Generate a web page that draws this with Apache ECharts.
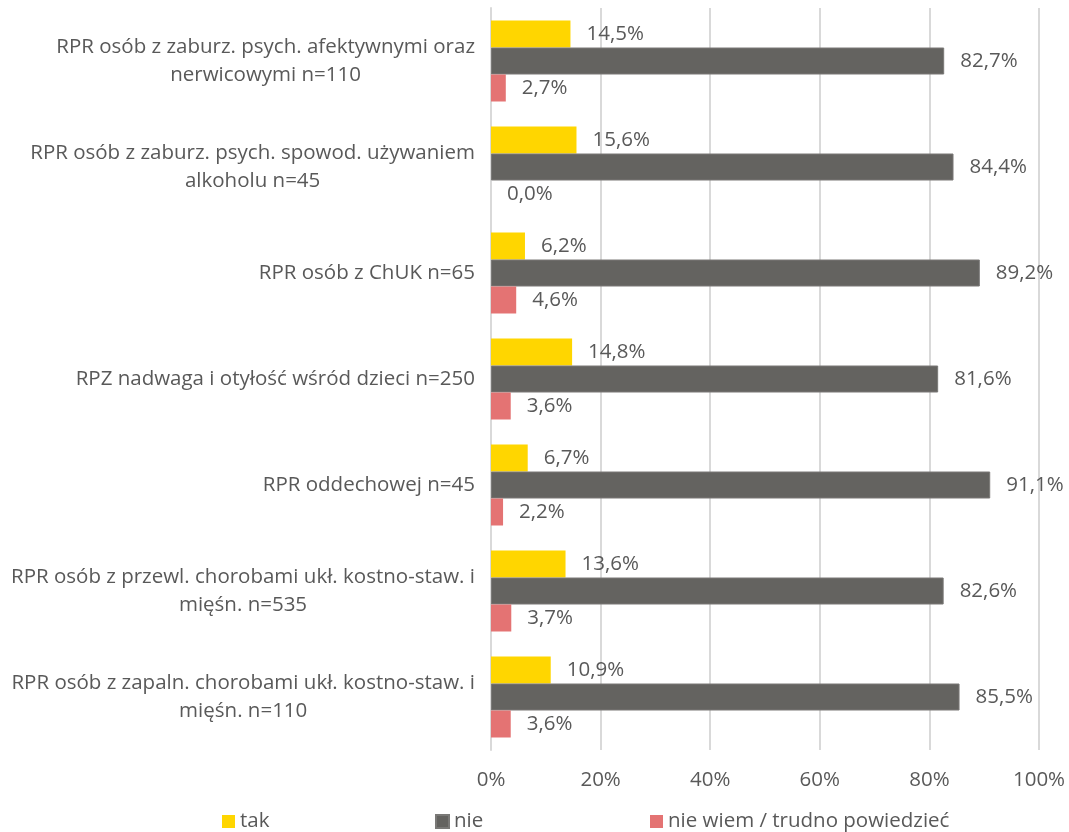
<!DOCTYPE html>
<html>
<head>
<meta charset="utf-8">
<script src="https://cdn.jsdelivr.net/npm/echarts@6/dist/echarts.min.js"></script>
<style>
  html, body { margin: 0; padding: 0; background: #ffffff; }
  #chart { width: 1069px; height: 832px; }
</style>
</head>
<body>
<div id="chart"></div>
<script>
// Category labels (line breaks as wrapped in the layout)
const categories = [
  'RPR osób z zaburz. psych. afektywnymi oraz\nnerwicowymi n=110',
  'RPR osób z zaburz. psych. spowod. używaniem\nalkoholu n=45',
  'RPR osób z ChUK n=65',
  'RPZ nadwaga i otyłość wśród dzieci n=250',
  'RPR oddechowej n=45',
  'RPR osób z przewl. chorobami ukł. kostno-staw. i\nmięśn. n=535',
  'RPR osób z zapaln. chorobami ukł. kostno-staw. i\nmięśn. n=110'
];

// Shares of answers, in percent
const tak = [14.5, 15.6, 6.2, 14.8, 6.7, 13.6, 10.9];
const nie = [82.7, 84.4, 89.2, 81.6, 91.1, 82.6, 85.5];
const nieWiem = [2.7, 0.0, 4.6, 3.6, 2.2, 3.7, 3.6];

const seriesNames = ['tak', 'nie', 'nie wiem / trudno powiedzieć'];
const xTicks = [0, 20, 40, 60, 80, 100];

const colors = ['#FFD600', '#646360', '#E47373'];
const textColor = '#595959';
const fontFamily = '"Segoe UI", "Open Sans", "Noto Sans", sans-serif';
const fontSize = 20.5;

const fmtPct = v => v.toFixed(1).replace('.', ',') + '%';

function barSeries(name, data, color, extra) {
  return Object.assign({
    name: name,
    type: 'bar',
    data: data,
    barWidth: 27,
    barGap: '0%',
    itemStyle: { color: color },
    label: {
      show: true,
      position: 'right',
      distance: 16,
      color: textColor,
      fontSize: fontSize,
      fontFamily: fontFamily,
      formatter: p => fmtPct(p.value)
    }
  }, extra || {});
}

const chart = echarts.init(document.getElementById('chart'), null, { renderer: 'canvas' });

const legendBase = {
  itemWidth: 13,
  itemHeight: 13,
  itemGap: 6,
  icon: 'rect',
  textStyle: { color: textColor, fontSize: fontSize, fontFamily: fontFamily },
  selectedMode: false
};

chart.setOption({
  animation: false,
  backgroundColor: '#ffffff',
  grid: { left: 491, right: 30, top: 8, bottom: 82, containLabel: false },
  legend: [
    Object.assign({}, legendBase, { data: [seriesNames[0]], left: 217, top: 806 }),
    Object.assign({}, legendBase, { data: [seriesNames[1]], left: 430, top: 806 }),
    Object.assign({}, legendBase, { data: [seriesNames[2]], left: 645, top: 806 })
  ],
  xAxis: {
    type: 'value',
    min: xTicks[0],
    max: xTicks[xTicks.length - 1],
    interval: xTicks[1] - xTicks[0],
    axisLine: { show: false },
    axisTick: { show: false },
    splitLine: { show: true, lineStyle: { color: '#D9D9D9', width: 2 } },
    axisLabel: {
      color: textColor,
      fontSize: fontSize,
      fontFamily: fontFamily,
      margin: 20,
      formatter: v => v + '%'
    }
  },
  yAxis: {
    type: 'category',
    data: categories,
    inverse: true,
    axisLine: { show: true, lineStyle: { color: '#D9D9D9', width: 2 } },
    axisTick: { show: false },
    axisLabel: {
      margin: 16,
      color: textColor,
      fontSize: fontSize,
      fontFamily: fontFamily,
      lineHeight: 28,
      formatter: v => v.split('\n').map(l => '{c|' + l + '}').join('\n'),
      rich: {
        c: { align: 'center', color: textColor, fontSize: fontSize, fontFamily: fontFamily, lineHeight: 28 }
      }
    }
  },
  series: [
    barSeries(seriesNames[0], tak, colors[0]),
    barSeries(seriesNames[1], nie, colors[1], { itemStyle: { color: colors[1], borderColor: '#7a7977', borderWidth: 1 } }),
    barSeries(seriesNames[2], nieWiem, colors[2])
  ]
});
</script>
</body>
</html>
